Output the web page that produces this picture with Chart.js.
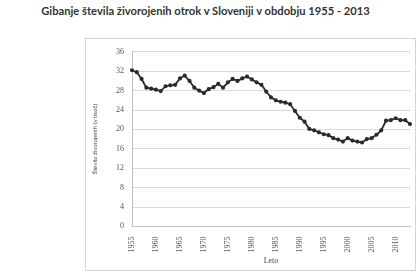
<!DOCTYPE html>
<html>
<head>
<meta charset="utf-8">
<script src="https://cdn.jsdelivr.net/npm/chart.js@4"></script>
<style>
  html, body { margin: 0; padding: 0; background: #fff; }
  body { width: 416px; height: 273px; position: relative; overflow: hidden; }
  #title {
    position: absolute; left: 0; top: 4px; width: 411px; text-align: center;
    font: bold 11.2px "Lato", "Liberation Sans", sans-serif; color: #333;
  }
  #box {
    position: absolute; left: 85px; top: 38px; width: 329px; height: 231px;
    border: 1px solid #d4d4d4;
  }
</style>
</head>
<body>
<div id="title">Gibanje števila živorojenih otrok v Sloveniji v obdobju 1955 - 2013</div>
<div id="box"><canvas id="chart" width="329" height="231"></canvas></div>
<script>
const ctx = document.getElementById('chart').getContext('2d');

const years = [];
for (let y = 1955; y <= 2013; y++) years.push(String(y));

// živorojeni otroci, v tisoč (ocenjeno s slike)
const births = [
    32.2, 31.8, 30.4, 28.6, 28.4, 28.2, 27.9, 28.9, 29.1, 29.2,
    30.5, 31.1, 30.0, 28.6, 28.0, 27.5, 28.3, 28.7, 29.4, 28.6,
    29.7, 30.4, 30.0, 30.5, 30.9, 30.3, 29.7, 29.2, 27.8, 26.6,
    26.0, 25.7, 25.5, 25.2, 23.8, 22.4, 21.6, 20.1, 19.8, 19.4,
    19.0, 18.8, 18.2, 17.9, 17.5, 18.2, 17.7, 17.5, 17.3, 18.0,
    18.2, 18.9, 19.8, 21.8, 21.9, 22.3, 21.9, 21.9, 21.1
];

const yTicks = [0, 4, 8, 12, 16, 20, 24, 28, 32, 36];
const shownYears = ['1955', '1960', '1965', '1970', '1975', '1980', '1985', '1990', '1995', '2000', '2005', '2010'];

const axisFont = { family: '"Liberation Serif", serif', size: 8 };

new Chart(ctx, {
    type: 'line',
    data: {
        labels: years,
        datasets: [{
            label: 'Živorojeni',
            data: births,
            borderColor: '#2b2b2b',
            backgroundColor: '#2b2b2b',
            borderWidth: 1.8,
            pointRadius: 1.2,
            pointHoverRadius: 1.2,
            tension: 0,
            fill: false
        }]
    },
    options: {
        responsive: false,
        animation: false,
        layout: { padding: { left: 6, right: 5, top: 8, bottom: 4 } },
        plugins: {
            legend: { display: false },
            tooltip: { enabled: false }
        },
        scales: {
            x: {
                offset: false,
                afterFit: s => { s.paddingRight = 0; s.paddingLeft = 0; },
                grid: { display: false, drawTicks: true },
                border: { color: '#bfbfbf' },
                ticks: {
                    autoSkip: false,
                    minRotation: 90,
                    maxRotation: 90,
                    font: axisFont,
                    color: '#555',
                    padding: 2,
                    callback: function (v, i) {
                        const l = years[i];
                        return shownYears.includes(l) ? l : '';
                    }
                },
                title: { display: true, text: 'Leto', font: { family: '"Liberation Serif", serif', size: 8 }, color: '#444', padding: { top: 2, bottom: 0 } }
            },
            y: {
                min: 0,
                max: 36,
                afterBuildTicks: s => { s.ticks = yTicks.map(v => ({ value: v })); },
                afterFit: s => { s.width = 40; },
                grid: { color: '#dadada', drawTicks: false },
                border: { color: '#bfbfbf' },
                ticks: { font: axisFont, color: '#555', padding: 8 },
                title: { display: true, text: 'Število živorojenih (v tisoč)', font: { family: '"Liberation Sans", sans-serif', size: 6 }, color: '#444', padding: 0 }
            }
        }
    }
});
</script>
</body>
</html>
